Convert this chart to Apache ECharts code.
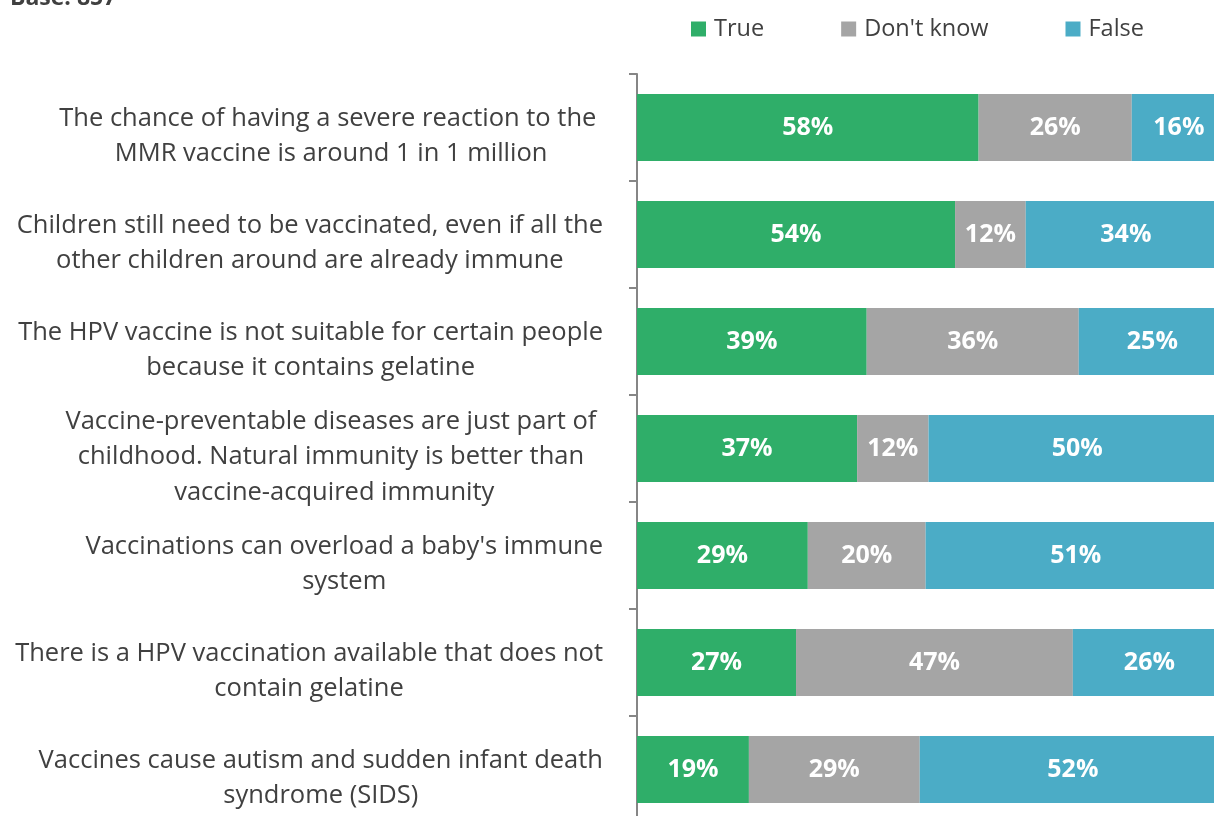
<!DOCTYPE html>
<html>
<head>
<meta charset="utf-8">
<script src="https://cdn.jsdelivr.net/npm/echarts@6/dist/echarts.min.js"></script>
<style>
  html, body { margin: 0; padding: 0; background: #fff; }
  #chart { width: 1214px; height: 816px; }
</style>
</head>
<body>
<div id="chart"></div>
<script>
// statements, top to bottom as drawn
const statements = [
  "The chance of having a severe reaction to the \nMMR vaccine is around 1 in 1 million",
  "Children still need to be vaccinated, even if all the\nother children around are already immune",
  "The HPV vaccine is not suitable for certain people\nbecause it contains gelatine",
  "Vaccine-preventable diseases are just part of \nchildhood. Natural immunity is better than \nvaccine-acquired immunity",
  "Vaccinations can overload a baby's immune\nsystem",
  "There is a HPV vaccination available that does not\ncontain gelatine",
  "Vaccines cause autism and sudden infant death\nsyndrome (SIDS)"
];
const trueVals = [58, 54, 39, 37, 29, 27, 19];
const dontKnowVals = [26, 12, 36, 12, 20, 47, 29];
const falseVals = [16, 34, 25, 50, 51, 26, 52];

const FONT = "Open Sans";
const chart = echarts.init(document.getElementById("chart"));

// 100% stacked: each row scaled to its own total, label keeps the raw value
const rowTotals = trueVals.map((v, i) => v + dontKnowVals[i] + falseVals[i]);
function toShare(vals) {
  return vals.map((v, i) => ({ value: (v / rowTotals[i]) * 100, raw: v }));
}

function makeSeries(name, vals, color) {
  return {
    name: name,
    type: "bar",
    stack: "total",
    barWidth: "62.6%",
    itemStyle: { color: color },
    label: {
      show: true,
      position: "inside",
      color: "#fff",
      fontFamily: FONT,
      fontWeight: "bold",
      fontSize: 25,
      formatter: (p) => p.data.raw + "%",
    },
    data: toShare(vals),
  };
}

chart.setOption({
  animation: false,
  title: {
    text: "Base: 857",
    left: 5,
    top: -18,
    textStyle: { fontFamily: FONT, fontSize: 23, fontWeight: "bold", color: "#404040" },
  },
  legend: {
    left: 686,
    top: 12,
    itemWidth: 15,
    itemHeight: 15,
    itemGap: 77,
    icon: "rect",
    textStyle: { fontFamily: FONT, fontSize: 23.5, color: "#404040", padding: [0, 0, 0, 3] },
    data: ["True", "Don't know", "False"],
  },
  // plot area runs a little past the right and bottom edges (the picture is cropped)
  grid: {
    left: 637,
    top: 74,
    width: 589,
    height: 749,
    outerBoundsMode: "none",
    containLabel: false,
  },
  xAxis: {
    type: "value",
    min: 0,
    max: 100,
    show: false,
  },
  yAxis: {
    type: "category",
    inverse: true,
    data: statements,
    axisLine: { show: true, lineStyle: { color: "#868686", width: 2 } },
    axisTick: { show: true, length: 8, lineStyle: { color: "#868686", width: 2 } },
    axisLabel: {
      margin: 34,
      align: "right",
      padding: [17, 0, 0, 0],
      formatter: (v) => v.split("\n").map((l) => "{c|" + l + "}").join("\n"),
      rich: {
        c: {
          align: "center",
          fontFamily: FONT,
          fontSize: 25.5,
          lineHeight: 35.5,
          color: "#404040",
        },
      },
    },
  },
  series: [
    makeSeries("True", trueVals, "#2FAE69"),
    makeSeries("Don't know", dontKnowVals, "#A5A5A5"),
    makeSeries("False", falseVals, "#4BACC6"),
  ],
});
</script>
</body>
</html>
